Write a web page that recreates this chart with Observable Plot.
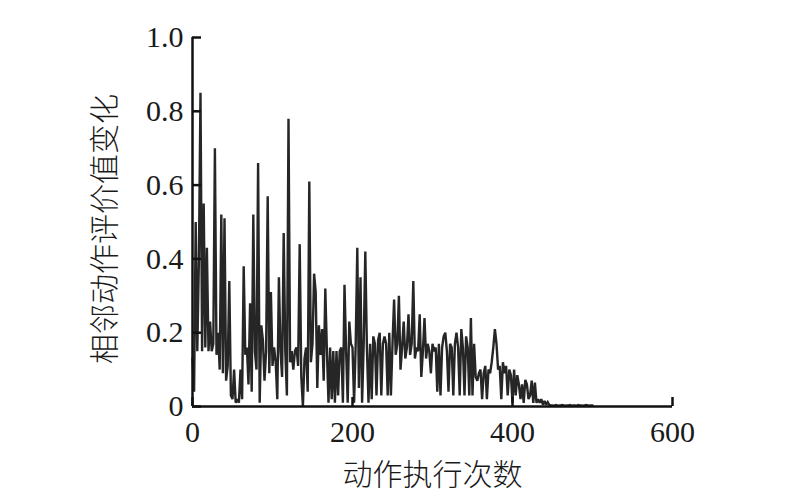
<!DOCTYPE html>
<html>
<head>
<meta charset="utf-8">
<script src="https://cdn.jsdelivr.net/npm/d3@7"></script>
<script src="https://cdn.jsdelivr.net/npm/@observablehq/plot@0.6"></script>
<style>
  html, body { margin: 0; padding: 0; background: #fff; }
</style>
</head>
<body>
<div id="chart"></div>
<script>
// Action counter step between samples
const step = 2;
// Change of evaluation value between adjacent actions (one value every 2 actions)
const values = [
  // 0..48
  0.13,0.04,0.50,0.15,0.40,0.85,0.15,0.55,0.16,0.43,0.15,0.23,0.15,0.17,0.70,0.14,0.20,0.10,0.52,0.09,0.51,0.07,0.11,0.34,0.03,
  // 50..98
  0.02,0.10,0.01,0.02,0.01,0.10,0.02,0.38,0.14,0.16,0.06,0.28,0.04,0.52,0.15,0.10,0.66,0.01,0.22,0.18,0.07,0.15,0.57,0.09,0.31,
  // 100..148
  0.11,0.16,0.12,0.02,0.35,0.15,0.08,0.47,0.15,0.03,0.78,0.12,0.15,0.10,0.15,0.16,0.11,0.44,0.08,0.00,0.13,0.16,0.04,0.61,0.12,
  // 150..198
  0.17,0.36,0.31,0.05,0.22,0.14,0.21,0.07,0.32,0.15,0.01,0.16,0.02,0.15,0.01,0.15,0.03,0.15,0.16,0.01,0.33,0.15,0.01,0.23,0.17,
  // 200..248
  0.16,0.01,0.17,0.43,0.05,0.35,0.01,0.17,0.42,0.16,0.01,0.17,0.02,0.19,0.17,0.03,0.18,0.20,0.03,0.17,0.19,0.17,0.03,0.20,0.03,
  // 250..298
  0.17,0.29,0.14,0.17,0.30,0.10,0.16,0.23,0.13,0.16,0.25,0.14,0.17,0.34,0.13,0.16,0.15,0.25,0.08,0.15,0.24,0.13,0.17,0.15,0.09,
  // 300..348
  0.17,0.15,0.16,0.04,0.17,0.03,0.16,0.19,0.20,0.15,0.04,0.17,0.16,0.03,0.17,0.20,0.16,0.03,0.21,0.16,0.03,0.19,0.16,0.03,0.24,
  // 350..398
  0.03,0.17,0.08,0.07,0.09,0.10,0.02,0.09,0.11,0.02,0.10,0.09,0.12,0.16,0.21,0.17,0.10,0.11,0.02,0.12,0.09,0.11,0.03,0.10,0.085,
  // 400..448
  0.01,0.10,0.03,0.085,0.06,0.02,0.06,0.01,0.072,0.06,0.02,0.03,0.07,0.01,0.065,0.01,0.02,0.01,0.02,0.005,0.015,0.005,0.012,0.004,0.003,
  // 450..500
  0.003,0.002,0.004,0.003,0.002,0.003,0.004,0.003,0.002,0.003,0.003,0.004,0.002,0.003,0.003,0.002,0.004,0.003,0.003,0.002,0.003,0.004,0.003,0.002,0.003,0.003
];
const xTicks = [0, 200, 400, 600];
const yTicks = [0, 0.2, 0.4, 0.6, 0.8, 1.0];
const yTickLabels = ["0", "0.2", "0.4", "0.6", "0.8", "1.0"];
const xTitle = "动作执行次数";
const yTitle = "相邻动作评价值变化";

const data = values.map((v, i) => ({x: i * step, y: v}));

const chart = Plot.plot({
  width: 800,
  height: 499,
  marginLeft: 192,
  marginRight: 128,
  marginTop: 37,
  marginBottom: 93,
  style: {
    fontFamily: "'Liberation Serif', 'Times New Roman', serif",
    fontSize: "30px",
    color: "#1a1a1a",
    background: "#fff",
    overflow: "visible"
  },
  x: {domain: [0, 600]},
  y: {domain: [0, 1]},
  marks: [
    Plot.line(data, {x: "x", y: "y", stroke: "#262626", strokeWidth: 2.4, strokeLinejoin: "miter", strokeMiterlimit: 2}),
    Plot.axisX(xTicks, {tickSize: -9, tickPadding: 23, strokeWidth: 2.5, stroke: "#111", label: null, fontSize: 30}),
    Plot.axisY(yTicks, {tickSize: -9, tickPadding: 18, strokeWidth: 2.5, stroke: "#111", label: null, fontSize: 30,
      tickFormat: (d) => yTickLabels[yTicks.indexOf(d)]}),
    Plot.ruleX([0], {stroke: "#111", strokeWidth: 2.5}),
    Plot.ruleY([0], {stroke: "#111", strokeWidth: 2.5}),
    Plot.text([xTitle], {text: (d) => d, frameAnchor: "bottom", dy: 69, lineAnchor: "middle", textAnchor: "middle",
      fontSize: 30, fontFamily: "'Noto Sans CJK SC', sans-serif", fontWeight: 300, fill: "#1a1a1a"}),
    Plot.text([yTitle], {text: (d) => d, frameAnchor: "left", dx: -87, dy: 7, rotate: -90, lineAnchor: "middle", textAnchor: "middle",
      fontSize: 30, fontFamily: "'Noto Sans CJK SC', sans-serif", fontWeight: 300, fill: "#1a1a1a"})
  ]
});
document.getElementById("chart").appendChild(chart);
</script>
</body>
</html>
